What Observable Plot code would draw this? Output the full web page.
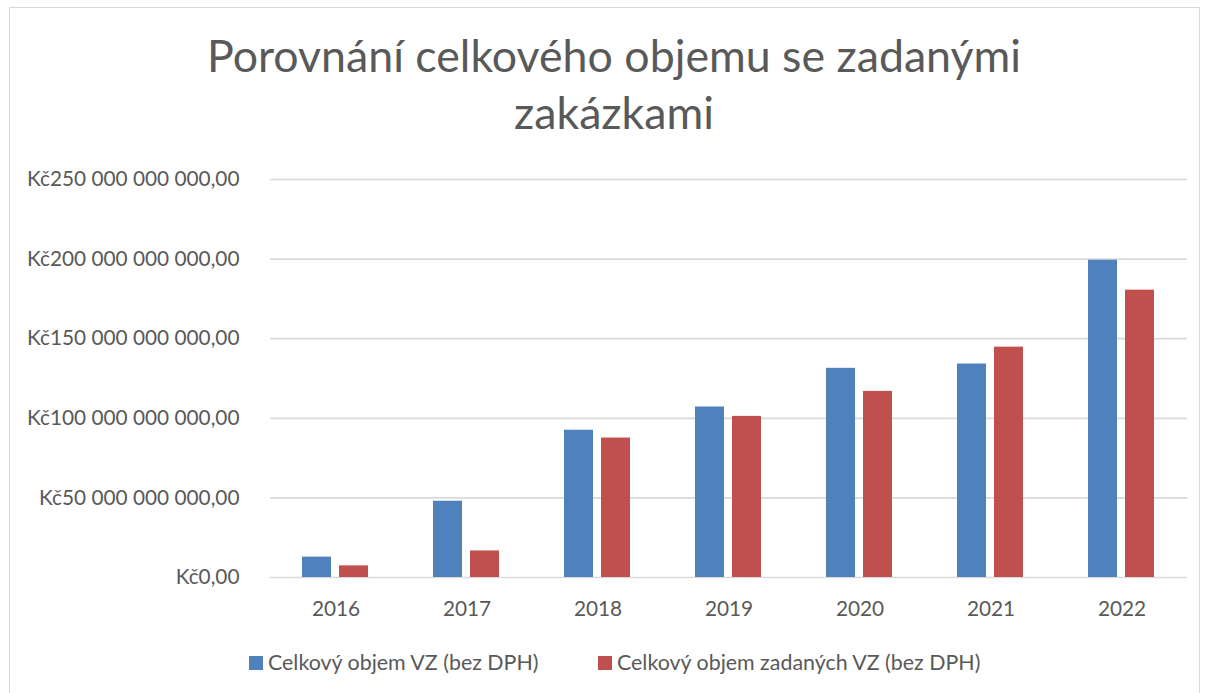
<!DOCTYPE html>
<html>
<head>
<meta charset="utf-8">
<script src="https://cdn.jsdelivr.net/npm/d3@7"></script>
<script src="https://cdn.jsdelivr.net/npm/@observablehq/plot@0.6"></script>
<style>
  body { margin: 0; background: #fff; font-family: Lato, "Noto Sans", sans-serif; color: #595959; }
  #frame { position: absolute; left: 9px; top: 7px; width: 1191px; height: 690px; border: 1px solid #d9d9d9; box-sizing: border-box; }
  #title { position: absolute; left: 0; top: 27px; width: 1228px; text-align: center; font-size: 44.7px; line-height: 57px; font-weight: 400; color: #595959; }
  #chart { position: absolute; left: 0; top: 0; }
  .leg { position: absolute; top: 649px; font-size: 21.4px; line-height: 26px; color: #595959; white-space: nowrap; }
  .sw { position: absolute; top: 7px; width: 14px; height: 14px; }
</style>
</head>
<body>
<div id="frame"></div>
<div id="title">Porovnání celkového objemu se zadanými<br>zakázkami</div>
<div id="chart"></div>
<div id="legend"></div>
<script>
const years = ["2016", "2017", "2018", "2019", "2020", "2021", "2022"];
const seriesNames = ["Celkový objem VZ (bez DPH)", "Celkový objem zadaných VZ (bez DPH)"];
const totalVolume = [12.8e9, 47.9e9, 92.5e9, 107.1e9, 131.4e9, 134.1e9, 199.3e9];
const awardedVolume = [7.3e9, 16.7e9, 87.6e9, 101.2e9, 116.9e9, 144.7e9, 180.5e9];
const yTicks = [0, 50e9, 100e9, 150e9, 200e9, 250e9];
const colors = ["#4f81bd", "#c0504d"];

const data = [];
years.forEach((y, i) => {
  data.push({year: y, series: seriesNames[0], value: totalVolume[i]});
  data.push({year: y, series: seriesNames[1], value: awardedVolume[i]});
});

const locale = d3.formatLocale({decimal: ",", thousands: " ", grouping: [3], currency: ["Kč", ""]});
const fmt = locale.format("$,.2f");

const chart = Plot.plot({
  width: 1208,
  height: 640,
  marginTop: 179,
  marginBottom: 63,
  marginLeft: 268,
  marginRight: 19,
  style: {fontFamily: "Lato, 'Noto Sans', sans-serif", fontSize: "20.8px", color: "#595959", background: "transparent"},
  fx: {domain: years, padding: 0, label: null, axis: null},
  x: {domain: seriesNames, paddingInner: 0.21, paddingOuter: 0.834, axis: null},
  y: {domain: [0, 250e9], ticks: yTicks, tickFormat: fmt, label: null, axis: null},
  color: {domain: seriesNames, range: colors},
  marks: [
    Plot.gridY(yTicks, {stroke: "#d9d9d9", strokeOpacity: 1, strokeWidth: 1.7}),
    Plot.barY(data, {fx: "year", x: "series", y: "value", fill: "series"}),
    Plot.axisY({ticks: yTicks, tickFormat: fmt, tickSize: 0, tickPadding: 31, fill: "#595959", label: null}),
    Plot.axisFx({anchor: "bottom", tickSize: 0, tickPadding: 24, fill: "#595959", label: null})
  ]
});
document.getElementById("chart").appendChild(chart);

const legend = document.getElementById("legend");
const legLefts = [249, 598];
seriesNames.forEach((name, i) => {
  const item = document.createElement("div");
  item.className = "leg";
  item.style.left = legLefts[i] + "px";
  item.innerHTML = `<span class="sw" style="left:0;background:${colors[i]}"></span><span style="margin-left:19px">${name}</span>`;
  legend.appendChild(item);
});
</script>
</body>
</html>
